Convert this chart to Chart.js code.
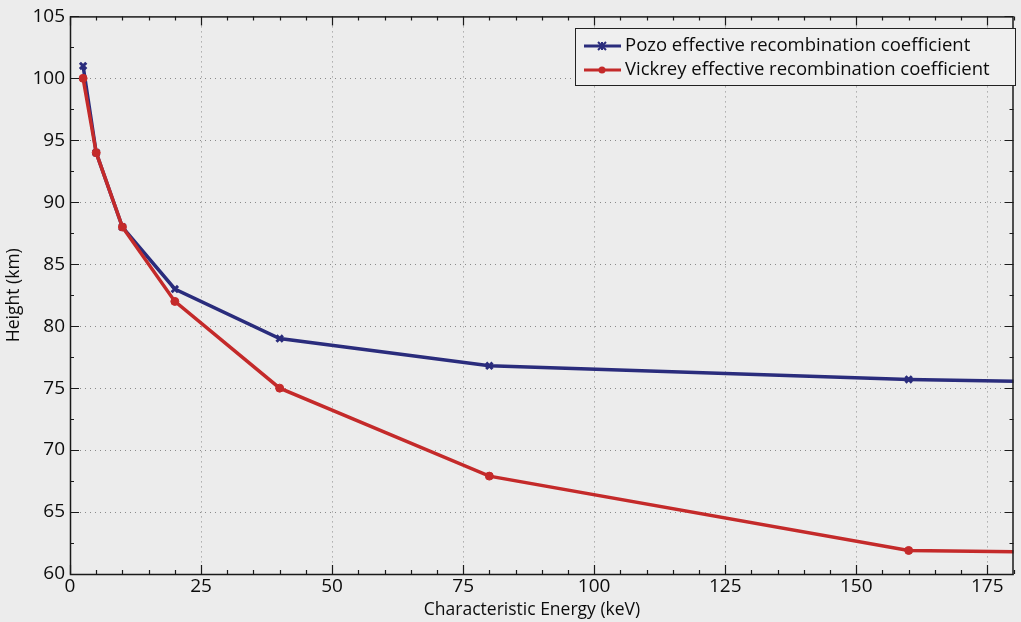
<!DOCTYPE html>
<html>
<head>
<meta charset="utf-8">
<script src="https://cdn.jsdelivr.net/npm/chart.js@4.4.1/dist/chart.umd.min.js"></script>
<style>
  html, body { margin: 0; padding: 0; background: #ececec; }
  #wrap { width: 1021px; height: 622px; position: relative; }
</style>
</head>
<body>
<div id="wrap"><canvas id="c" width="1021" height="622"></canvas></div>
<script>
// Characteristic energies (keV) and peak-ionisation heights (km)
const energies = [2.5, 5, 10, 20, 40, 80, 160, 320];
const pozoHeights = [101.0, 94.0, 88.0, 83.0, 79.0, 76.8, 75.7, 74.5];
const vickreyHeights = [100.0, 94.0, 88.0, 82.0, 75.0, 67.9, 61.9, 61.0];
const seriesNames = ['Pozo effective recombination coefficient', 'Vickrey effective recombination coefficient'];
const xTicks = [0, 25, 50, 75, 100, 125, 150, 175];
const yTicks = [60, 65, 70, 75, 80, 85, 90, 95, 100, 105];
const xTitle = 'Characteristic Energy (keV)';

const FONT = '"Open Sans", "DejaVu Sans", sans-serif';
const BLUE = '#2a2c7c';
const RED = '#c42a2a';

const pts = (ys) => energies.map((x, i) => ({ x: x, y: ys[i] }));

// Dotted grid, inward ticks on all four sides and the axes box
const framePlugin = {
  id: 'frame',
  beforeDatasetsDraw(chart) {
    const { ctx, chartArea: a, scales: { x, y } } = chart;
    ctx.save();
    ctx.strokeStyle = '#8a8a8a';
    ctx.lineWidth = 1;
    ctx.setLineDash([1, 4]);
    xTicks.forEach(v => {
      if (v <= x.min || v >= x.max) return;
      const px = Math.round(x.getPixelForValue(v)) + 0.5;
      ctx.beginPath(); ctx.moveTo(px, a.top); ctx.lineTo(px, a.bottom); ctx.stroke();
    });
    yTicks.forEach(v => {
      if (v <= y.min || v >= y.max) return;
      const py = Math.round(y.getPixelForValue(v)) + 0.5;
      ctx.beginPath(); ctx.moveTo(a.left, py); ctx.lineTo(a.right, py); ctx.stroke();
    });
    ctx.restore();
  },
  afterDatasetsDraw(chart) {
    const { ctx, chartArea: a, scales: { x, y } } = chart;
    ctx.save();
    ctx.strokeStyle = '#1a1a1a';
    ctx.lineWidth = 1.2;
    ctx.setLineDash([]);
    for (let v = x.min; v <= x.max; v += 5) {
      const px = Math.round(x.getPixelForValue(v)) + 0.5;
      const len = (v % 25 === 0) ? 9 : 4;
      ctx.beginPath();
      ctx.moveTo(px, a.bottom); ctx.lineTo(px, a.bottom - len);
      ctx.moveTo(px, a.top); ctx.lineTo(px, a.top + len);
      ctx.stroke();
    }
    for (let v = y.min; v <= y.max; v += 2.5) {
      const py = Math.round(y.getPixelForValue(v)) + 0.5;
      const len = (v % 5 === 0) ? 9 : 4;
      ctx.beginPath();
      ctx.moveTo(a.left, py); ctx.lineTo(a.left + len, py);
      ctx.moveTo(a.right, py); ctx.lineTo(a.right - len, py);
      ctx.stroke();
    }
    ctx.lineWidth = 1.5;
    ctx.strokeRect(a.left + 0.5, a.top + 0.5, a.right - a.left - 1, a.bottom - a.top);
    ctx.restore();
  },
  afterDraw(chart) {
    const { ctx } = chart;
    ctx.save();
    // x-axis title, sitting slightly left of the plot centre
    ctx.fillStyle = '#0c0c0c';
    ctx.font = '17.5px ' + FONT;
    ctx.textAlign = 'center';
    ctx.textBaseline = 'middle';
    ctx.fillText(xTitle, 532, 610);

    // Boxed legend in the upper-right corner of the plot
    const bx = 575, by = 28, bw = 440, bh = 57;
    ctx.fillStyle = '#efefef';
    ctx.fillRect(bx, by, bw, bh);
    ctx.strokeStyle = '#222';
    ctx.lineWidth = 1;
    ctx.strokeRect(bx + 0.5, by + 0.5, bw, bh);
    chart.data.datasets.forEach((ds, i) => {
      const cy = by + 18 + i * 24;
      ctx.strokeStyle = ds.borderColor;
      ctx.lineWidth = 3;
      ctx.beginPath(); ctx.moveTo(584, cy); ctx.lineTo(621, cy); ctx.stroke();
      ctx.fillStyle = ds.borderColor;
      if (ds.pointStyle === 'circle') {
        ctx.beginPath(); ctx.arc(602, cy, 3.5, 0, Math.PI * 2); ctx.fill();
      } else {
        ctx.lineWidth = 2;
        ctx.beginPath();
        ctx.moveTo(598, cy - 4); ctx.lineTo(606, cy + 4);
        ctx.moveTo(606, cy - 4); ctx.lineTo(598, cy + 4);
        ctx.moveTo(602, cy - 4); ctx.lineTo(602, cy + 4);
        ctx.stroke();
      }
      ctx.fillStyle = '#0c0c0c';
      ctx.font = '18.5px ' + FONT;
      ctx.textBaseline = 'middle';
      ctx.textAlign = 'left';
      ctx.fillText(ds.label, 625, cy);
    });
    ctx.restore();
  }
};

new Chart(document.getElementById('c'), {
  type: 'line',
  data: {
    datasets: [
      {
        label: seriesNames[0],
        data: pts(pozoHeights),
        borderColor: BLUE,
        backgroundColor: BLUE,
        borderWidth: 3.5,
        pointStyle: 'crossRot',
        pointRadius: 4.5,
        pointBorderWidth: 3,
        tension: 0,
        clip: 0,
        order: 1
      },
      {
        label: seriesNames[1],
        data: pts(vickreyHeights),
        borderColor: RED,
        backgroundColor: RED,
        borderWidth: 3.5,
        pointStyle: 'circle',
        pointRadius: 4,
        pointBorderWidth: 1,
        tension: 0,
        clip: 0,
        order: 0
      }
    ]
  },
  options: {
    responsive: false,
    animation: false,
    layout: { padding: { top: 15, right: 1, left: 4, bottom: 0 } },
    plugins: {
      legend: { display: false },
      tooltip: { enabled: false }
    },
    scales: {
      x: {
        type: 'linear',
        min: 0, max: 180,
        afterBuildTicks(s) { s.ticks = xTicks.map(v => ({ value: v })); },
        afterFit(s) { s.height = 48; },
        grid: { display: false, drawTicks: false },
        border: { display: false },
        ticks: { color: '#0c0c0c', font: { family: FONT, size: 19 }, padding: 1, maxRotation: 0 },
        title: { display: false }
      },
      y: {
        type: 'linear',
        min: 60, max: 105,
        afterBuildTicks(s) { s.ticks = yTicks.map(v => ({ value: v })); },
        afterFit(s) { s.width = 66; },
        grid: { display: false, drawTicks: false },
        border: { display: false },
        ticks: { color: '#0c0c0c', font: { family: FONT, size: 19 }, padding: 5 },
        title: { display: true, text: 'Height (km)', color: '#0c0c0c', font: { family: FONT, size: 17.5 }, padding: { top: 0, bottom: 0 } }
      }
    }
  },
  plugins: [framePlugin]
});
</script>
</body>
</html>
